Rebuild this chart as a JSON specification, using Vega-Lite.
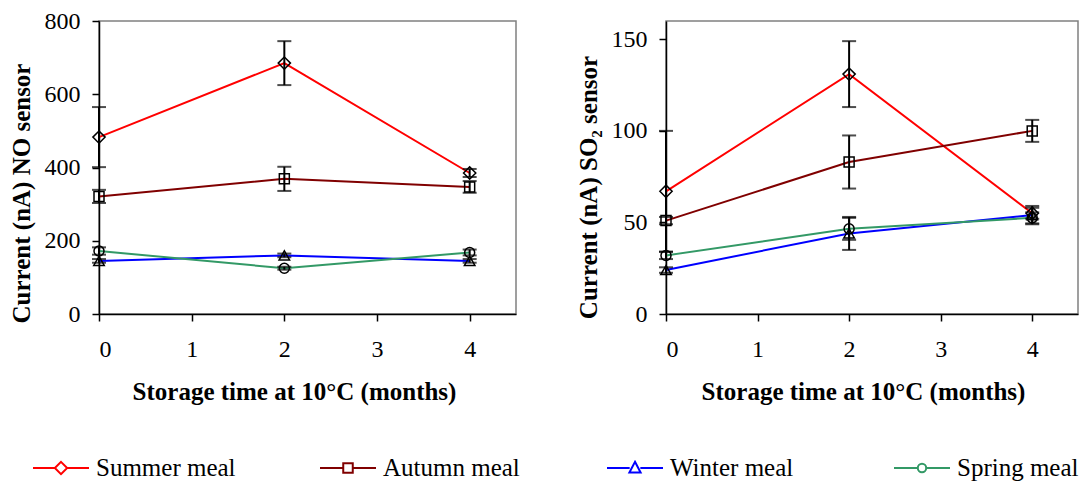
{
  "$schema": "https://vega.github.io/schema/vega-lite/v6.json",
  "padding": {"left": 8, "top": 8, "right": 0, "bottom": 0},
  "background": "white",
  "config": {
    "font": "Liberation Serif",
    "view": {"stroke": "#808080", "strokeWidth": 1.5},
    "axis": {
      "grid": false,
      "domainColor": "black",
      "domainWidth": 1.5,
      "tickColor": "black",
      "tickWidth": 1.5,
      "tickSize": 7,
      "labelFontSize": 24,
      "labelColor": "black",
      "labelFont": "'Liberation Serif', 'Times New Roman', 'DejaVu Serif', serif",
      "labelFontWeight": "normal",
      "titleFont": "Liberation Serif",
      "titleFontSize": 25,
      "titleFontWeight": "bold",
      "titleColor": "black"
    },
    "legend": {
      "labelFont": "'Liberation Serif', 'Times New Roman', 'DejaVu Serif', serif",
      "labelFontSize": 25,
      "labelColor": "black"
    }
  },
  "data": {
    "values": [
      {"sensor": "NO", "meal": "Summer meal", "t": 0, "value": 483, "err": 82},
      {"sensor": "NO", "meal": "Summer meal", "t": 2, "value": 685, "err": 60},
      {"sensor": "NO", "meal": "Summer meal", "t": 4, "value": 385, "err": 11},
      {"sensor": "NO", "meal": "Autumn meal", "t": 0, "value": 321, "err": 18},
      {"sensor": "NO", "meal": "Autumn meal", "t": 2, "value": 369, "err": 33},
      {"sensor": "NO", "meal": "Autumn meal", "t": 4, "value": 347, "err": 16},
      {"sensor": "NO", "meal": "Winter meal", "t": 0, "value": 145, "err": 5},
      {"sensor": "NO", "meal": "Winter meal", "t": 2, "value": 160, "err": 5},
      {"sensor": "NO", "meal": "Winter meal", "t": 4, "value": 145, "err": 5},
      {"sensor": "NO", "meal": "Spring meal", "t": 0, "value": 172, "err": 10},
      {"sensor": "NO", "meal": "Spring meal", "t": 2, "value": 125, "err": 4},
      {"sensor": "NO", "meal": "Spring meal", "t": 4, "value": 168, "err": 8},
      {"sensor": "SO2", "meal": "Summer meal", "t": 0, "value": 67, "err": 33},
      {"sensor": "SO2", "meal": "Summer meal", "t": 2, "value": 131, "err": 18},
      {"sensor": "SO2", "meal": "Summer meal", "t": 4, "value": 55, "err": 3},
      {"sensor": "SO2", "meal": "Autumn meal", "t": 0, "value": 51, "err": 2},
      {"sensor": "SO2", "meal": "Autumn meal", "t": 2, "value": 83, "err": 14.5},
      {"sensor": "SO2", "meal": "Autumn meal", "t": 4, "value": 100, "err": 6},
      {"sensor": "SO2", "meal": "Winter meal", "t": 0, "value": 24, "err": 1.5},
      {"sensor": "SO2", "meal": "Winter meal", "t": 2, "value": 44, "err": 9},
      {"sensor": "SO2", "meal": "Winter meal", "t": 4, "value": 54, "err": 5},
      {"sensor": "SO2", "meal": "Spring meal", "t": 0, "value": 32, "err": 2},
      {"sensor": "SO2", "meal": "Spring meal", "t": 2, "value": 46.5, "err": 6},
      {"sensor": "SO2", "meal": "Spring meal", "t": 4, "value": 52.5, "err": 3}
    ]
  },
  "hconcat": [
    {
      "width": 417,
      "height": 293,
      "transform": [{"filter": "datum.sensor === 'NO'"}],
      "encoding": {
        "x": {"field": "t", "type": "quantitative", "title": "Storage time at 10°C (months)", "scale": {"domain": [0, 4.5], "nice": false},
          "axis": {"values": [0, 1, 2, 3, 4], "format": "d", "labelPadding": 16, "titlePadding": 18, "titleX": 195}},
        "y": {"field": "value", "type": "quantitative", "title": "Current (nA) NO sensor", "scale": {"domain": [0, 800], "nice": false},
          "axis": {"values": [0, 200, 400, 600, 800], "labelPadding": 12, "titlePadding": 10, "titleY": 172}}
      },
      "layer": [
        {
          "mark": {"type": "line", "strokeWidth": 2},
          "encoding": {
            "color": {"field": "meal", "type": "nominal",
              "scale": {"domain": ["Summer meal", "Autumn meal", "Winter meal", "Spring meal"], "range": ["#FF0000", "#800000", "#0000FF", "#339966"]},
              "legend": {
                "orient": "none", "legendX": -67, "legendY": 418, "direction": "horizontal", "columns": 4, "gridAlign": "all",
                "title": null, "columnPadding": 80, "labelOffset": 6,
                "symbolSize": 3136, "symbolStrokeWidth": 2, "symbolFillColor": "transparent",
                "encode": {"symbols": {"update": {"shape": {"signal": "datum.value === 'Summer meal' ? 'M-1,0L-0.22,0M0.22,0L1,0M0,-0.22L0.22,0L0,0.22L-0.22,0Z' : datum.value === 'Autumn meal' ? 'M-1,0L-0.17,0M0.17,0L1,0M-0.17,-0.17L0.17,-0.17L0.17,0.17L-0.17,0.17Z' : datum.value === 'Winter meal' ? 'M-1,0L-0.19,0M0.19,0L1,0M0,-0.22L0.2,0.16L-0.2,0.16Z' : 'M-1,0L-0.15,0M0.15,0L1,0M0.15,0A0.15,0.15 0 1,1 -0.15,0A0.15,0.15 0 1,1 0.15,0Z'"}}}}
              }
            }
          }
        },
        {
          "mark": {"type": "errorbar", "color": "black", "thickness": 2, "ticks": {"size": 14, "thickness": 2, "color": "black"}},
          "encoding": {"yError": {"field": "err"}}
        },
        {
          "transform": [{"filter": "datum.meal === 'Summer meal'"}],
          "mark": {"type": "point", "shape": "diamond", "filled": false, "color": "black", "strokeWidth": 1.5, "size": 150, "opacity": 1}
        },
        {
          "transform": [{"filter": "datum.meal === 'Autumn meal'"}],
          "mark": {"type": "point", "shape": "square", "filled": false, "color": "black", "strokeWidth": 1.5, "size": 100, "opacity": 1}
        },
        {
          "transform": [{"filter": "datum.meal === 'Winter meal'"}],
          "mark": {"type": "point", "shape": "triangle-up", "filled": false, "color": "black", "strokeWidth": 1.5, "size": 110, "opacity": 1}
        },
        {
          "transform": [{"filter": "datum.meal === 'Spring meal'"}],
          "mark": {"type": "point", "shape": "circle", "filled": false, "color": "black", "strokeWidth": 1.5, "size": 100, "opacity": 1}
        }
      ]
    },
    {
      "width": 412,
      "height": 293,
      "transform": [{"filter": "datum.sensor === 'SO2'"}],
      "encoding": {
        "x": {"field": "t", "type": "quantitative", "title": "Storage time at 10°C (months)", "scale": {"domain": [0, 4.5], "nice": false},
          "axis": {"values": [0, 1, 2, 3, 4], "format": "d", "labelPadding": 16, "titlePadding": 18, "titleX": 197}},
        "y": {"field": "value", "type": "quantitative", "title": "Current (nA) SO₂ sensor", "scale": {"domain": [0, 160], "nice": false},
          "axis": {"values": [0, 50, 100, 150], "labelPadding": 12, "titlePadding": 10, "titleY": 166}}
      },
      "layer": [
        {
          "mark": {"type": "line", "strokeWidth": 2},
          "encoding": {
            "color": {"field": "meal", "type": "nominal",
              "scale": {"domain": ["Summer meal", "Autumn meal", "Winter meal", "Spring meal"], "range": ["#FF0000", "#800000", "#0000FF", "#339966"]}}
          }
        },
        {
          "mark": {"type": "errorbar", "color": "black", "thickness": 2, "ticks": {"size": 14, "thickness": 2, "color": "black"}},
          "encoding": {"yError": {"field": "err"}}
        },
        {
          "transform": [{"filter": "datum.meal === 'Summer meal'"}],
          "mark": {"type": "point", "shape": "diamond", "filled": false, "color": "black", "strokeWidth": 1.5, "size": 150, "opacity": 1}
        },
        {
          "transform": [{"filter": "datum.meal === 'Autumn meal'"}],
          "mark": {"type": "point", "shape": "square", "filled": false, "color": "black", "strokeWidth": 1.5, "size": 100, "opacity": 1}
        },
        {
          "transform": [{"filter": "datum.meal === 'Winter meal'"}],
          "mark": {"type": "point", "shape": "triangle-up", "filled": false, "color": "black", "strokeWidth": 1.5, "size": 110, "opacity": 1}
        },
        {
          "transform": [{"filter": "datum.meal === 'Spring meal'"}],
          "mark": {"type": "point", "shape": "circle", "filled": false, "color": "black", "strokeWidth": 1.5, "size": 100, "opacity": 1}
        }
      ]
    }
  ],
  "spacing": 58,
  "resolve": {"scale": {"x": "independent", "y": "independent", "color": "shared"}, "legend": {"color": "shared"}}
}
